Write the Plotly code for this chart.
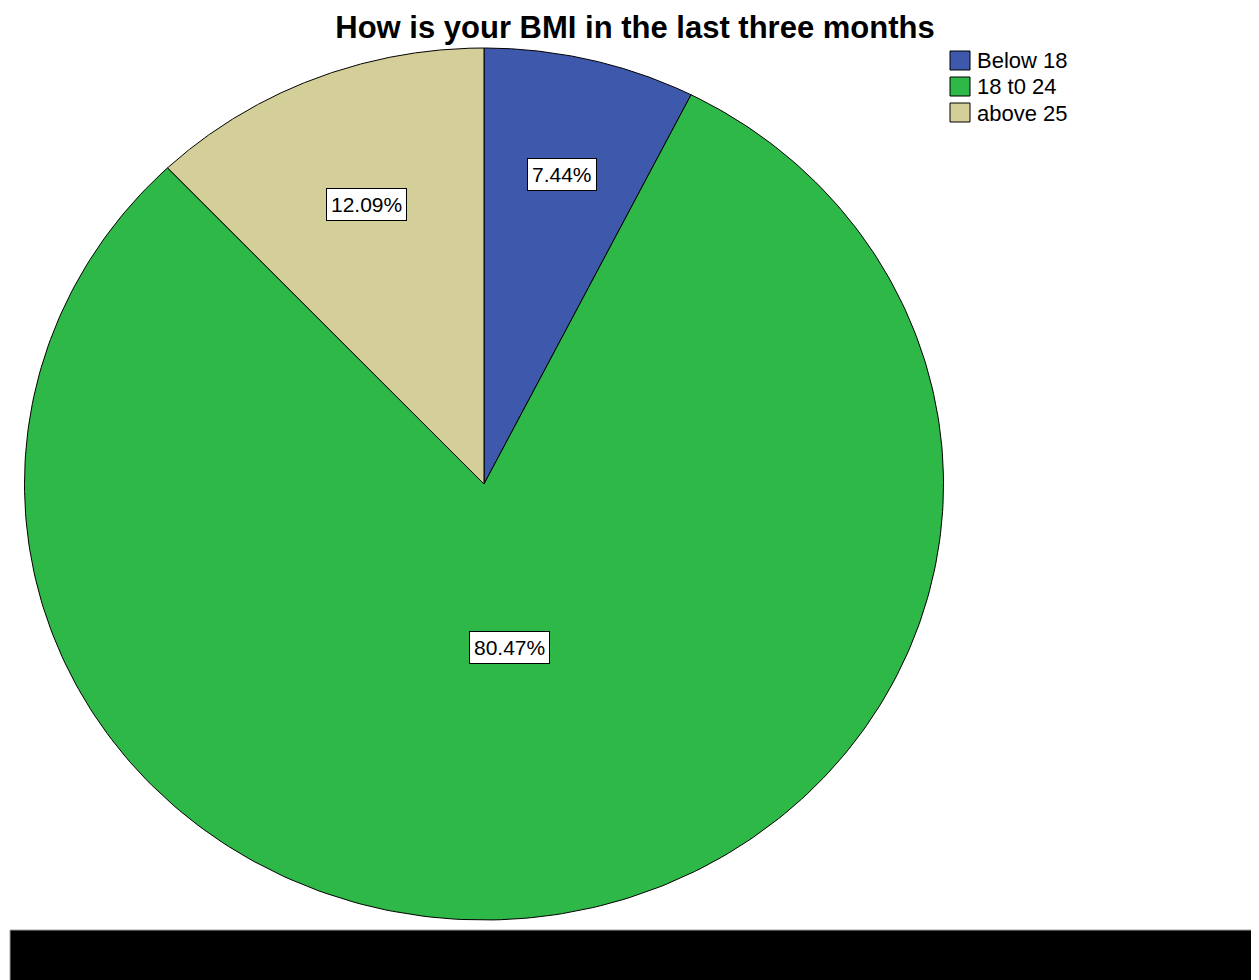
import numpy as np
import plotly.graph_objects as go

categories = ["Below 18", "18 t0 24", "above 25"]
percentages = [7.44, 80.47, 12.09]
label_texts = ["7.44%", "80.47%", "12.09%"]

colors = ["#3E58AC", "#2EB848", "#D4CE99"]
label_radius = [0.73, 0.38, 0.69]

# page body has an 8px margin; lay the figure out in reference pixel coords
OFF = 8
W, H = 1259 - OFF, 980 - OFF


def px(xr):
    return (xr - OFF) / W


def py(yr):
    return 1 - (yr - OFF) / H


FONT = "Liberation Sans, Arial"

fig = go.Figure()

total = sum(percentages)
start = 0.0
for cat, val, col, txt, lr in zip(categories, percentages, colors, label_texts, label_radius):
    a0 = start / total * 2 * np.pi
    a1 = (start + val) / total * 2 * np.pi
    th = np.linspace(a0, a1, 300)
    xs = np.concatenate([[0], np.sin(th), [0]])
    ys = np.concatenate([[0], np.cos(th), [0]])
    fig.add_trace(go.Scatter(
        x=xs, y=ys, mode="lines", fill="toself", fillcolor=col,
        line=dict(color="black", width=1), showlegend=False,
        name=cat, hoverinfo="name",
    ))
    mid = (a0 + a1) / 2
    fig.add_annotation(
        x=lr * np.sin(mid), y=lr * np.cos(mid), xref="x", yref="y",
        text=txt, showarrow=False,
        font=dict(family=FONT, size=21, color="black"),
        bgcolor="white", bordercolor="black", borderwidth=1, borderpad=4,
    )
    start += val

# legend (drawn as shapes + text to match the compact SPSS legend)
shapes = []
for i, (cat, col) in enumerate(zip(categories, colors)):
    top = 51 + 26 * i
    shapes.append(dict(
        type="rect", xref="paper", yref="paper",
        x0=px(950), x1=px(970), y0=py(top + 19), y1=py(top),
        fillcolor=col, line=dict(color="black", width=1),
    ))
    fig.add_annotation(
        x=px(975), y=py(top + 10), xref="paper", yref="paper",
        xanchor="left", yanchor="middle", text=cat, showarrow=False,
        font=dict(family=FONT, size=22, color="black"),
    )

shapes.append(dict(
    type="rect", xref="paper", yref="paper",
    x0=px(10), x1=1.02, y0=-0.02, y1=py(930),
    fillcolor="black", line=dict(color="#a0a0a0", width=1),
))

cx, cy = 484, 484
rx, ry = 459.5, 436

fig.update_layout(
    width=W, height=H,
    margin=dict(l=0, r=0, t=0, b=0),
    paper_bgcolor="white", plot_bgcolor="white",
    showlegend=False,
    title=dict(
        text="<b>How is your BMI in the last three months</b>",
        x=px(635), xanchor="center", y=py(27), yanchor="middle",
        pad=dict(t=0, b=0),
        font=dict(family=FONT, size=31, color="black"),
    ),
    xaxis=dict(visible=False, fixedrange=True,
               range=[-(cx - OFF) / rx, (W - (cx - OFF)) / rx]),
    yaxis=dict(visible=False, fixedrange=True,
               range=[-(H - (cy - OFF)) / ry, (cy - OFF) / ry]),
    shapes=shapes,
)

fig.write_html("out.html")
